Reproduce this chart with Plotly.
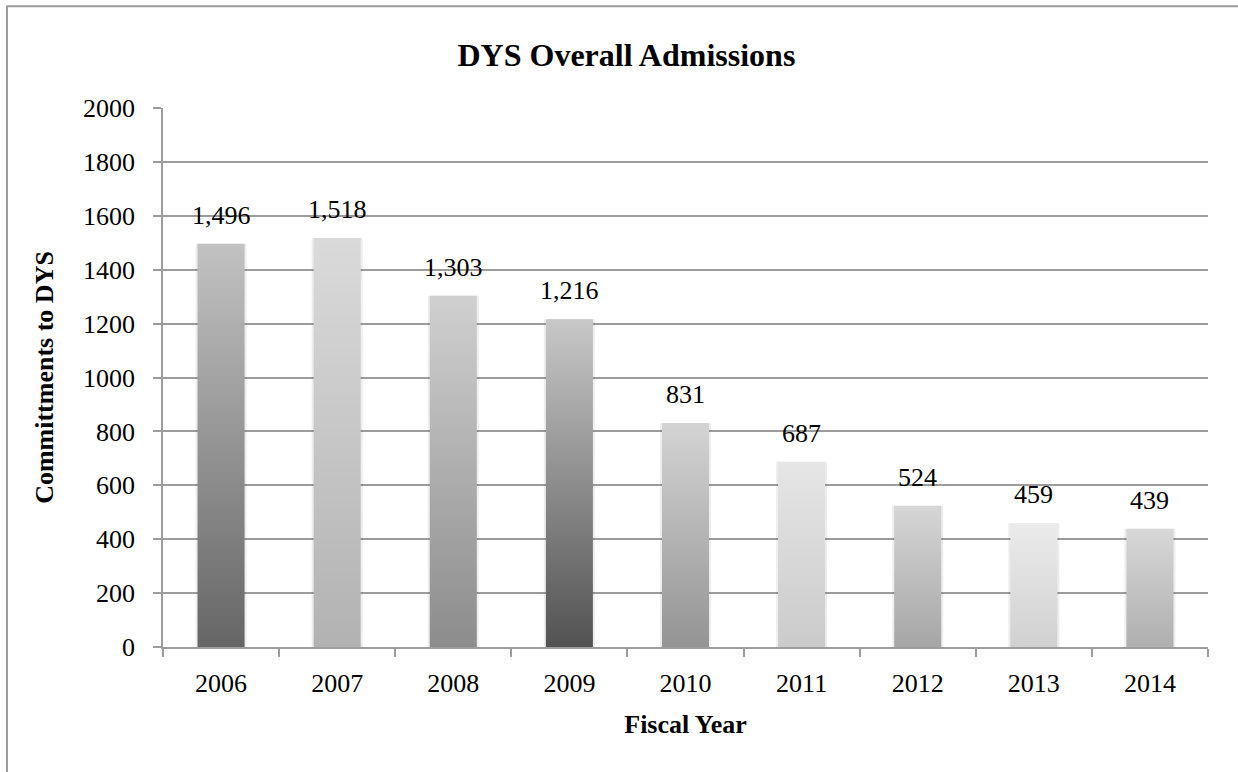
import plotly.graph_objects as go

# Fiscal years and DYS commitments per year
years = ["2006", "2007", "2008", "2009", "2010", "2011", "2012", "2013", "2014"]
admissions = [1496, 1518, 1303, 1216, 831, 687, 524, 459, 439]

# Per-bar gradient colours (bottom -> top)
bar_bottom = ["#666666", "#b2b2b2", "#8c8c8c", "#525252", "#949494",
              "#cbcbcb", "#a6a6a6", "#d1d1d1", "#afafaf"]
bar_top = ["#c2c2c2", "#dadada", "#d0d0d0", "#c8c8c8", "#d4d4d4",
           "#e6e6e6", "#d6d6d6", "#ebebeb", "#d8d8d8"]

y_ticks = [0, 200, 400, 600, 800, 1000, 1200, 1400, 1600, 1800, 2000]

BAR_WIDTH = 0.405
FONT = "Liberation Serif, Times New Roman, serif"
GRID = "#9c9c9c"

positions = list(range(len(years)))

fig = go.Figure()

# Soft drop shadow behind each bar
fig.add_trace(go.Bar(
    x=positions, y=admissions, width=BAR_WIDTH + 0.035,
    marker=dict(color="rgba(0,0,0,0.07)", line=dict(width=0)),
    hoverinfo="skip", showlegend=False,
))

# Gradient-filled bars
hw = BAR_WIDTH / 2
for i, (v, c0, c1) in enumerate(zip(admissions, bar_bottom, bar_top)):
    fig.add_trace(go.Scatter(
        x=[i - hw, i + hw, i + hw, i - hw, i - hw],
        y=[0, 0, v, v, 0],
        mode="lines", fill="toself",
        line=dict(width=0, color="rgba(0,0,0,0)"),
        fillgradient=dict(type="vertical", colorscale=[[0, c0], [1, c1]],
                          start=0, stop=v),
        hoverinfo="skip", showlegend=False,
    ))

# Value labels above the bars
for i, v in enumerate(admissions):
    fig.add_annotation(
        x=i, y=v, text=f"{v:,}", showarrow=False,
        xanchor="center", yanchor="bottom", yshift=12,
        font=dict(family=FONT, size=26, color="#000000"),
    )

# Chart frame
fig.add_shape(type="rect", xref="paper", yref="paper",
              x0=-0.1493, x1=1.05, y0=-0.3, y1=1.189,
              line=dict(color=GRID, width=2), fillcolor="rgba(0,0,0,0)",
              layer="below")

fig.update_layout(
    width=1238, height=772,
    margin=dict(l=163, r=30, t=108, b=125),
    paper_bgcolor="white", plot_bgcolor="white",
    font=dict(family=FONT, color="#000000"),
    showlegend=False,
    title=dict(text="<b>DYS Overall Admissions</b>",
               font=dict(family=FONT, size=32, color="#000000"),
               xref="container", yref="container",
               x=0.506, y=1 - 55 / 772, xanchor="center", yanchor="middle"),
    xaxis=dict(
        range=[-0.5, len(years) - 0.5],
        tickvals=positions, ticktext=years, ticks="", ticklen=0,
        tickfont=dict(family=FONT, size=26), ticklabelstandoff=12,
        showgrid=False, zeroline=False,
        showline=True, linecolor=GRID, linewidth=1.5,
        minor=dict(tick0=-0.5, dtick=1, ticks="outside", ticklen=8,
                   tickcolor=GRID, tickwidth=1.5, showgrid=False),
        title=dict(text="<b>Fiscal Year</b>",
                   font=dict(family=FONT, size=26), standoff=18),
    ),
    yaxis=dict(
        range=[0, 2000], tickvals=y_ticks,
        ticks="outside", ticklen=8, tickcolor=GRID, tickwidth=1.5,
        tickfont=dict(family=FONT, size=26), ticklabelstandoff=13,
        showgrid=True, gridcolor=GRID, gridwidth=1.5,
        zeroline=False, showline=True, linecolor=GRID, linewidth=1.5,
        title=dict(text="<b>Committments to DYS</b>",
                   font=dict(family=FONT, size=26), standoff=22),
    ),
)

fig.write_html("out.html")
